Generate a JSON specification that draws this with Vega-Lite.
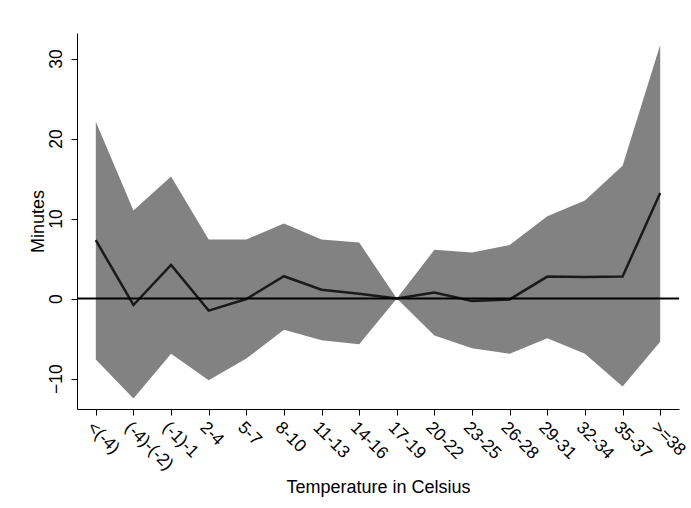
{
  "$schema": "https://vega.github.io/schema/vega-lite/v6.json",
  "width": 602,
  "height": 376,
  "autosize": "none",
  "padding": {"left": 77, "top": 33, "right": 12, "bottom": 99},
  "background": "white",
  "config": {
    "view": {"stroke": null},
    "font": "Liberation Sans",
    "axis": {
      "grid": false,
      "domainColor": "black",
      "domainWidth": 1,
      "tickColor": "black",
      "tickSize": 6,
      "labelColor": "black",
      "titleColor": "black",
      "labelFont": "Liberation Sans",
      "titleFont": "Liberation Sans",
      "labelFontSize": 17.5,
      "titleFontSize": 18,
      "titleFontWeight": "normal"
    }
  },
  "data": {
    "values": [
      {"cat": "<(-4)", "est": 7.3, "lo": -7.6, "hi": 22.1},
      {"cat": "(-4)-(-2)", "est": -0.8, "lo": -12.5, "hi": 11.0},
      {"cat": "(-1)-1", "est": 4.2, "lo": -6.9, "hi": 15.25},
      {"cat": "2-4", "est": -1.5, "lo": -10.2, "hi": 7.4},
      {"cat": "5-7", "est": -0.05, "lo": -7.5, "hi": 7.4},
      {"cat": "8-10", "est": 2.8, "lo": -3.9, "hi": 9.4},
      {"cat": "11-13", "est": 1.1, "lo": -5.2, "hi": 7.4},
      {"cat": "14-16", "est": 0.6, "lo": -5.7, "hi": 7.0},
      {"cat": "17-19", "est": 0, "lo": 0, "hi": 0},
      {"cat": "20-22", "est": 0.75, "lo": -4.6, "hi": 6.1},
      {"cat": "23-25", "est": -0.3, "lo": -6.2, "hi": 5.75},
      {"cat": "26-28", "est": -0.1, "lo": -6.9, "hi": 6.7},
      {"cat": "29-31", "est": 2.75, "lo": -4.95, "hi": 10.3},
      {"cat": "32-34", "est": 2.7, "lo": -6.9, "hi": 12.25},
      {"cat": "35-37", "est": 2.75, "lo": -11.0, "hi": 16.6},
      {"cat": ">=38", "est": 13.2, "lo": -5.4, "hi": 31.7}
    ]
  },
  "layer": [
    {
      "mark": {"type": "area", "color": "#828282", "opacity": 1},
      "encoding": {
        "x": {
          "field": "cat",
          "type": "ordinal",
          "sort": null,
          "scale": {"type": "point", "padding": 0.5},
          "axis": {
            "title": "Temperature in Celsius",
            "labelAngle": 45,
            "labelAlign": "left",
            "labelBaseline": "top",
            "labelPadding": 3,
            "titlePadding": 6
          }
        },
        "y": {
          "field": "lo",
          "type": "quantitative",
          "scale": {"domain": [-13.8, 33.2], "nice": false, "zero": false},
          "axis": {
            "title": "Minutes",
            "values": [-10, 0, 10, 20, 30],
            "labelAngle": -90,
            "labelAlign": "center",
            "labelBaseline": "bottom",
            "labelPadding": 6,
            "titlePadding": 0
          }
        },
        "y2": {"field": "hi"}
      }
    },
    {
      "mark": {"type": "line", "color": "#1a1a1a", "strokeWidth": 2.5},
      "encoding": {
        "x": {"field": "cat", "type": "ordinal", "sort": null},
        "y": {"field": "est", "type": "quantitative"}
      }
    },
    {
      "data": {"values": [{"z": 0}]},
      "mark": {"type": "rule", "color": "black", "strokeWidth": 2},
      "encoding": {"y": {"field": "z", "type": "quantitative"}}
    }
  ]
}
